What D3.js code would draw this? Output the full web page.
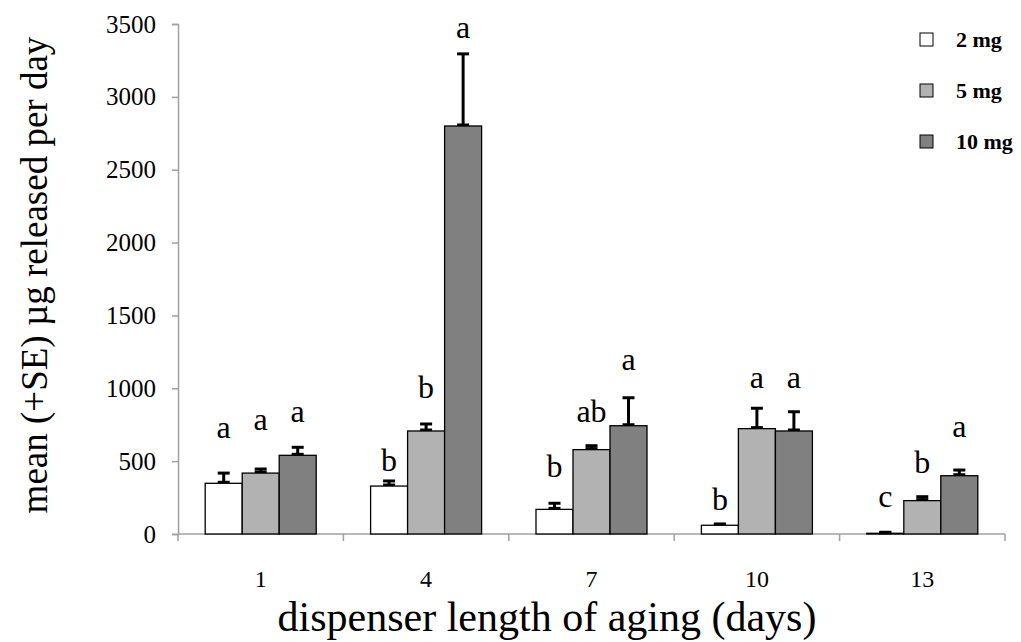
<!DOCTYPE html>
<html>
<head>
<meta charset="utf-8">
<script src="https://cdn.jsdelivr.net/npm/d3@7"></script>
<style>
    body { margin: 0; background: #fff; }
</style>
</head>
<body>
<div id="chart-div"></div>
<script>
//---------------------------------//
// Data                            //
//---------------------------------//

const days = ['1', '4', '7', '10', '13'];
const doses = ['2 mg', '5 mg', '10 mg'];

// mean ug released per day, one array per dose
const mean2 = [348, 329, 169, 60, 5];
const mean5 = [418, 707, 579, 723, 229];
const mean10 = [540, 2800, 743, 707, 400];

// standard errors
const se2 = [70, 35, 42, 8, 3];
const se5 = [28, 48, 27, 140, 27];
const se10 = [55, 495, 192, 132, 39];

// significance letters and the value where each sits (baseline)
const letters2 = ['a', 'b', 'b', 'b', 'c'];
const letters5 = ['a', 'b', 'ab', 'a', 'b'];
const letters10 = ['a', 'a', 'a', 'a', 'a'];
const letterAt2 = [657, 434, 393, 165, 187];
const letterAt5 = [714, 931, 771, 1000, 417];
const letterAt10 = [771, 3402, 1125, 1000, 664];

const yTicks = [0, 500, 1000, 1500, 2000, 2500, 3000, 3500];

//---------------------------------//
// Chart Object                    //
//---------------------------------//

window.Chart = window.Chart || {};

Chart.init = function() {
    Chart.setup.initConsts();
    Chart.setup.initData();
    Chart.setup.initGraph();

    Chart.draw.axes();
    Chart.draw.bars();
    Chart.draw.labels();
    Chart.draw.legend();
};

Chart.setup = {
    initConsts: function() {
        Chart.width = 1021;
        Chart.height = 642;

        Chart.left = 178;
        Chart.right = 1005;
        Chart.top = 24;
        Chart.bottom = 534;

        Chart.font = '"Liberation Serif", "Times New Roman", Times, serif';
        Chart.fills = ['#ffffff', '#b2b2b2', '#808080'];
        Chart.axisColor = '#a0a0a0';
    },

    initData: function() {
        let means = [mean2, mean5, mean10];
        let ses = [se2, se5, se10];
        let letters = [letters2, letters5, letters10];
        let letterAt = [letterAt2, letterAt5, letterAt10];

        Chart.rows = [];
        days.forEach(function(day, i) {
            doses.forEach(function(dose, j) {
                Chart.rows.push({
                    day: day, dose: dose, s: j,
                    mean: means[j][i], se: ses[j][i],
                    letter: letters[j][i], letterAt: letterAt[j][i]
                });
            });
        });
    },

    initGraph: function() {
        Chart.svg = d3.select('#chart-div')
                      .append('svg')
                        .attr('width', Chart.width)
                        .attr('height', Chart.height)
                        .style('font-family', Chart.font);

        Chart.x0 = d3.scaleBand()
                     .domain(days)
                     .range([Chart.left, Chart.right])
                     .padding(0);
        Chart.x1 = d3.scaleBand()
                     .domain(doses)
                     .range([0, Chart.x0.bandwidth()])
                     .paddingInner(0)
                     .paddingOuter(0.735);
        Chart.y = d3.scaleLinear()
                    .domain([0, 3500])
                    .range([Chart.bottom, Chart.top]);
    },
};

Chart.draw = {
    axes: function() {
        // y axis
        let yAxis = d3.axisLeft(Chart.y)
                      .tickValues(yTicks)
                      .tickSize(6)
                      .tickPadding(16)
                      .tickFormat(d3.format('d'));
        let gy = Chart.svg.append('g')
                          .attr('transform', 'translate(' + Chart.left + ',0)')
                          .call(yAxis)
                          .attr('font-family', null)
                          .attr('font-size', null);
        gy.select('.domain').attr('stroke', Chart.axisColor).attr('stroke-width', 1.5);
        gy.selectAll('.tick line').attr('stroke', Chart.axisColor).attr('stroke-width', 1.5);
        gy.selectAll('.tick text')
          .style('font-family', Chart.font)
          .style('font-size', '25px')
          .attr('fill', '#000');

        // x axis: ticks between categories, labels in the middle
        let gx = Chart.svg.append('g')
                          .attr('transform', 'translate(0,' + Chart.bottom + ')');
        gx.append('line')
          .attr('x1', Chart.left).attr('x2', Chart.right)
          .attr('stroke', Chart.axisColor).attr('stroke-width', 1.5);
        let bounds = days.map(d => Chart.x0(d)).concat([Chart.x0(days[days.length-1]) + Chart.x0.bandwidth()]);
        gx.selectAll('.xtick')
          .data(bounds)
          .enter().append('line')
            .attr('x1', d => d).attr('x2', d => d)
            .attr('y1', 0).attr('y2', 7)
            .attr('stroke', Chart.axisColor).attr('stroke-width', 1.5);
        gx.selectAll('.xlabel')
          .data(days)
          .enter().append('text')
            .attr('x', d => Chart.x0(d) + Chart.x0.bandwidth()/2)
            .attr('y', 53)
            .attr('text-anchor', 'middle')
            .style('font-size', '24px')
            .text(d => d);

        // titles
        Chart.svg.append('text')
                 .attr('x', 547).attr('y', 631)
                 .attr('text-anchor', 'middle')
                 .style('font-size', '42px')
                 .text('dispenser length of aging (days)');
        Chart.svg.append('text')
                 .attr('transform', 'translate(47,275) rotate(-90)')
                 .attr('text-anchor', 'middle')
                 .style('font-size', '37px')
                 .text('mean (+SE) \u00b5g released per day');
    },

    bars: function() {
        let g = Chart.svg.append('g');
        let barX = d => Chart.x0(d.day) + Chart.x1(d.dose);
        let bw = Chart.x1.bandwidth();

        // error bars first, bars are drawn over them
        let err = g.selectAll('.err')
                   .data(Chart.rows)
                   .enter().append('g');
        err.append('line')
           .attr('x1', d => barX(d) + bw/2).attr('x2', d => barX(d) + bw/2)
           .attr('y1', d => Chart.y(d.mean)).attr('y2', d => Chart.y(d.mean + d.se))
           .attr('stroke', '#000').attr('stroke-width', 3);
        err.append('line')
           .attr('x1', d => barX(d) + bw/2 - 6).attr('x2', d => barX(d) + bw/2 + 6)
           .attr('y1', d => Chart.y(d.mean + d.se)).attr('y2', d => Chart.y(d.mean + d.se))
           .attr('stroke', '#000').attr('stroke-width', 3);
        err.append('line')
           .attr('x1', d => barX(d) + bw/2 - 6).attr('x2', d => barX(d) + bw/2 + 6)
           .attr('y1', d => Chart.y(d.mean) - 1).attr('y2', d => Chart.y(d.mean) - 1)
           .attr('stroke', '#000').attr('stroke-width', 3);

        g.selectAll('.bar')
         .data(Chart.rows)
         .enter().append('rect')
           .attr('x', barX)
           .attr('y', d => Chart.y(d.mean))
           .attr('width', bw)
           .attr('height', d => Chart.bottom - Chart.y(d.mean))
           .attr('fill', d => Chart.fills[d.s])
           .attr('stroke', '#000')
           .attr('stroke-width', 1.3);
    },

    labels: function() {
        Chart.svg.append('g')
                 .selectAll('text')
                 .data(Chart.rows)
                 .enter().append('text')
                   .attr('x', d => Chart.x0(d.day) + Chart.x1(d.dose) + Chart.x1.bandwidth()/2)
                   .attr('y', d => Chart.y(d.letterAt))
                   .attr('text-anchor', 'middle')
                   .style('font-size', '32px')
                   .text(d => d.letter);
    },

    legend: function() {
        let rowY = d3.scalePoint().domain(doses).range([40, 142]);
        let lg = Chart.svg.append('g')
                          .selectAll('g')
                          .data(doses)
                          .enter().append('g')
                            .attr('transform', d => 'translate(920,' + rowY(d) + ')');
        lg.append('rect')
          .attr('x', 0).attr('y', -7)
          .attr('width', 13).attr('height', 13)
          .attr('fill', (d, i) => Chart.fills[i])
          .attr('stroke', '#000').attr('stroke-width', 1);
        lg.append('text')
          .attr('x', 36).attr('y', 7)
          .style('font-size', '22px')
          .style('font-weight', 'bold')
          .text(d => d);
    },
};

document.addEventListener('DOMContentLoaded', Chart.init);
</script>
</body>
</html>
